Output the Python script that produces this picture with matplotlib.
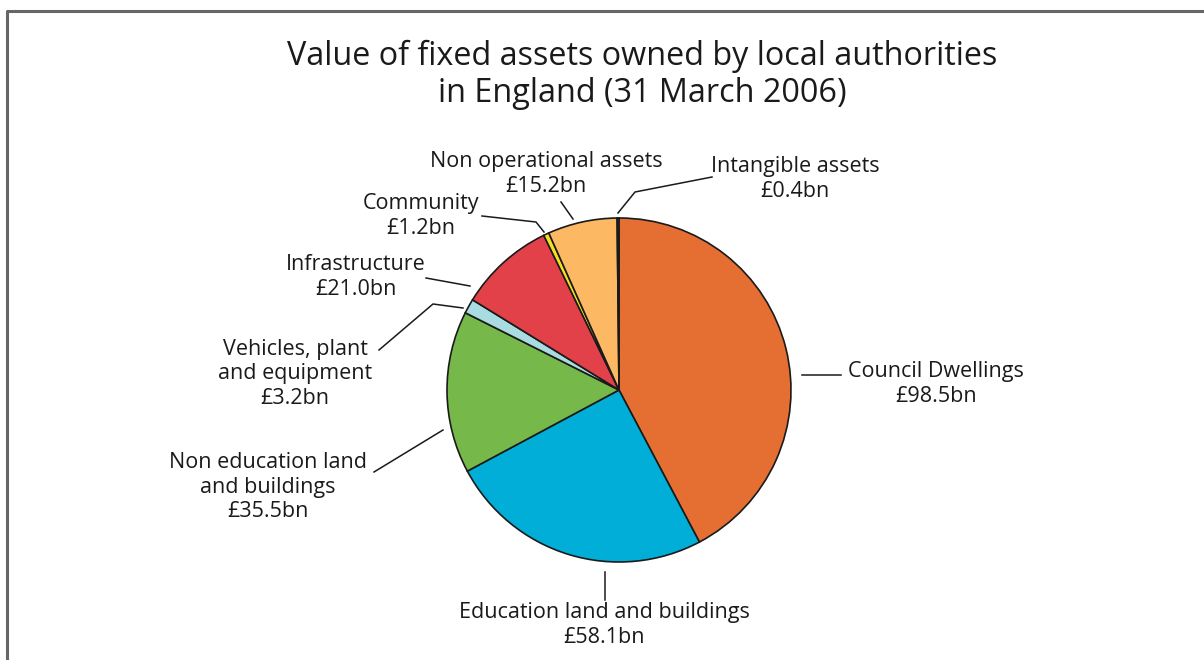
import matplotlib.pyplot as plt

# Fixed assets owned by local authorities, England, 31 March 2006 (£bn)
categories = ['Council Dwellings', 'Education land and buildings',
              'Non education land and buildings', 'Vehicles, plant and equipment',
              'Infrastructure', 'Community', 'Non operational assets',
              'Intangible assets']
values = [98.5, 58.1, 35.5, 3.2, 21.0, 1.2, 15.2, 0.4]
label_text = ['Council Dwellings\n£98.5bn',
              'Education land and buildings\n£58.1bn',
              'Non education land\nand buildings\n£35.5bn',
              'Vehicles, plant\nand equipment\n£3.2bn',
              'Infrastructure\n£21.0bn',
              'Community\n£1.2bn',
              'Non operational assets\n£15.2bn',
              'Intangible assets\n£0.4bn']
colors = ['#E56F32', '#00AED8', '#77B84A', '#A9DCE0',
          '#E2414A', '#F5DF1E', '#FDB863', '#6B2F5A']

plt.rcParams['font.family'] = ['Open Sans', 'DejaVu Sans']

W, H = 1204, 660

def px(x, y):
    # picture pixel coords -> axes coords (y up)
    return x, H - y

# label block centres and leader lines, in picture pixels
label_pos = [(936, 384), (604, 625), (268, 487), (295, 374),
             (356, 277), (421, 216), (546, 174), (795, 179)]
leaders = [[(802, 375), (841, 375)],
           [(605, 572), (605, 600)],
           [(443, 430), (374, 472)],
           [(463, 308), (433, 304), (379, 350)],
           [(470, 286), (426, 278)],
           [(544, 232), (536, 222), (482, 216)],
           [(573, 219), (561, 202)],
           [(618, 213), (635, 192), (712, 177)]]

fig = plt.figure(figsize=(W / 100, H / 100), dpi=100)
ax = fig.add_axes([0, 0, 1, 1])

ax.pie(values, colors=colors, startangle=90, counterclock=False,
       center=px(619, 390), radius=172,
       wedgeprops=dict(edgecolor='#1a1a1a', linewidth=1.2))

for txt, (x, y) in zip(label_text, label_pos):
    ax.text(*px(x, y), txt, ha='center', va='center', fontsize=15.5,
            color='#1a1a1a', linespacing=1.2)

for pts in leaders:
    xs = [p[0] for p in pts]
    ys = [H - p[1] for p in pts]
    ax.plot(xs, ys, color='#1a1a1a', lw=1.1)

ax.text(*px(642, 75), 'Value of fixed assets owned by local authorities\nin England (31 March 2006)',
        ha='center', va='center', fontsize=23.3, color='#1a1a1a', linespacing=1.18)

# frame around the figure (cut off at bottom and right)
ax.plot([7, 7, W], [0, H - 11, H - 11], color='#666666', lw=2.2)

ax.set_xlim(0, W)
ax.set_ylim(0, H)
ax.set_aspect('auto')
ax.axis('off')

fig.savefig('out.png', dpi=100, facecolor='white')
